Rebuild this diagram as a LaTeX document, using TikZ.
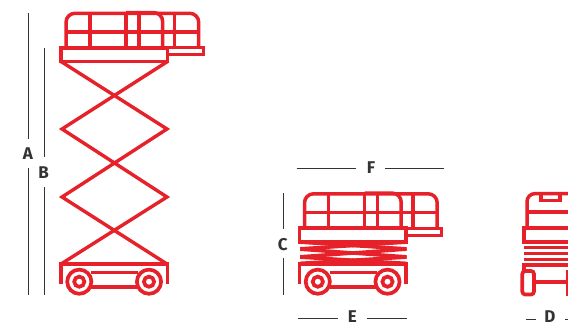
\documentclass[tikz,border=0pt]{standalone}
\usepackage{fontspec}
\setmainfont{Fira Sans}[BoldFont={Fira Sans}]
\newfontfamily\lblfont{Fira Sans Bold}
\definecolor{liftred}{HTML}{E6212A}
\definecolor{dimgrey}{HTML}{333333}
\tikzset{
  liftline/.style={draw=liftred,line width=3.7pt,line join=miter},
  thinrail/.style={draw=liftred,line width=3.5pt},
  dimline/.style={draw=dimgrey,line width=0.8pt},
  dimlabel/.style={text=dimgrey,font=\lblfont\fontsize{17}{18}\selectfont,inner sep=0pt,anchor=center}
}
\newcommand{\railing}[2]{%
  \begin{scope}[shift={(#1,#2)}]
    \draw[thinrail,rounded corners=9pt] (66,47) -- (66,13.3) -- (198.7,13.3) -- (198.7,47);
    \draw[thinrail,rounded corners=9pt] (126,12.6) -- (162.7,12.6) -- (162.7,47);
    \draw[thinrail] (66,32) -- (198.7,32);
    \foreach \vx in {89.8,126,139,174.7} \draw[thinrail] (\vx,13) -- (\vx,47);
    \draw[liftline,line width=3pt] (168,47.7) -- (203.2,47.7) -- (203.2,54.7) -- (168,54.7);
    \draw[liftline] (61,47.7) rectangle (167.5,61.6);
  \end{scope}}
\newcommand{\chassis}[1]{%
  \begin{scope}[shift={(#1,0)}]
    \draw[liftline] (61,283.5) -- (61,263.7) -- (167.5,263.7) -- (167.5,283.5);
    \draw[liftline] (91,272.5) -- (138,272.5);
    \draw[liftline] (91,286.8) -- (138,286.8);
    \foreach \wx in {79.3,149} {
      \draw[liftline,fill=white] (\wx,281.7) circle[radius=12.1];
      \draw[liftline] (\wx,281.7) circle[radius=5.1];
    }
  \end{scope}}
\begin{document}
\begin{tikzpicture}[x=1pt,y=-1pt]
\useasboundingbox (0,0) rectangle (568,324);
% lift raised
\draw[liftline,line width=3.4pt] (61,61.5) -- (167,129) -- (62,197) -- (167,264);
\draw[liftline,line width=3.4pt] (167.5,61.5) -- (62,129) -- (167,197) -- (61,264);
\railing{0}{0}
% lift lowered: folded scissors
\begin{scope}
\clip (300,238) rectangle (406.5,266);
\foreach \ya/\yb in {242/249,249/257,257/263.5} {
  \draw[liftred,line width=3.6pt] (298,\ya) -- (408,\yb);
  \draw[liftred,line width=3.6pt] (298,\yb) -- (408,\ya);
}
\end{scope}
\chassis{0}
\railing{238.5}{180.5}
\chassis{238.5}
% rear view
\draw[thinrail,rounded corners=8pt] (527,228) -- (527,193.6) -- (570,193.6);
\draw[thinrail] (527,212) -- (570,212);
\draw[thinrail] (541,194) -- (541,200.6) -- (560,200.6) -- (560,194);
\draw[liftline] (570,228.2) -- (523.7,228.2) -- (523.7,241.7) -- (570,241.7);
\foreach \by in {247.8,253.4,259.3} \draw[draw=liftred,line width=3.2pt] (524.3,\by) -- (570,\by);
\draw[liftline] (524,272) -- (524,265) -- (570,265);
\draw[liftline,rounded corners=3pt] (522.3,271) rectangle (534,294.5);
\draw[liftline] (534,281.7) -- (570,281.7);
\draw[liftline] (568,270) -- (568,296);
% dimensions
\node[dimlabel] (a) at (28,153.5) {A};
\node[dimlabel] (b) at (43.7,172.5) {B};
\node[dimlabel] (c) at (282.7,244.7) {C};
\node[dimlabel] (d) at (550,317) {D};
\node[dimlabel] (e) at (352.3,316.8) {E};
\node[dimlabel] (f) at (371,167.5) {F};
\coordinate (at) at (28,13); \coordinate (ab) at (28,295);
\coordinate (bt) at (44,48); \coordinate (bb) at (44,295);
\coordinate (ct) at (283,193); \coordinate (cb) at (283,294.5);
\coordinate (dl) at (525.7,319.3); \coordinate (dr) at (568,319.3);
\coordinate (el) at (298,318.3); \coordinate (er) at (407,318.3);
\coordinate (fl) at (296.7,168.3); \coordinate (fr) at (444,168.3);
\draw[dimline] (at) -- (28,138.5);
\draw[dimline] (28,168) -- (ab);
\draw[dimline] (bt) -- (44,157);
\draw[dimline] (44,187) -- (bb);
\draw[dimline] (ct) -- (283,229);
\draw[dimline] (283,258) -- (cb);
\draw[dimline] (fl) -- (355.7,168.3);
\draw[dimline] (385,168.3) -- (fr);
\draw[dimline] (el) -- (338,318.3);
\draw[dimline] (367,318.3) -- (er);
\draw[dimline] (dl) -- (535.7,319.3);
\draw[dimline] (565,319.3) -- (dr);
\end{tikzpicture}
\end{document}
